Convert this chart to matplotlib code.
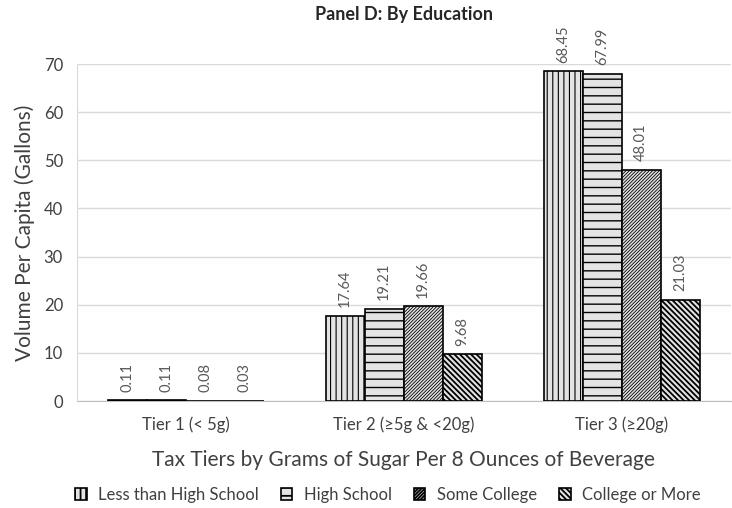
import matplotlib
matplotlib.use("Agg")
import matplotlib.pyplot as plt
import numpy as np

plt.rcParams['font.family'] = ['Lato', 'DejaVu Sans']

categories = ["Tier 1 (< 5g)", "Tier 2 (\u22655g & <20g)", "Tier 3 (\u226520g)"]
series = ["Less than High School", "High School", "Some College", "College or More"]
values = {
    "Less than High School": [0.11, 17.64, 68.45],
    "High School": [0.11, 19.21, 67.99],
    "Some College": [0.08, 19.66, 48.01],
    "College or More": [0.03, 9.68, 21.03],
}
hatches = ["|||", "--", "//////////", "\\\\\\\\\\\\"]
hatch_lw = [0.8, 1.0, 0.6, 1.3]

fig = plt.figure(figsize=(7.32, 5.08), dpi=100)
ax = fig.add_axes([0.105, 0.2106, 0.893, 0.6634])

x = np.arange(len(categories))
w = 0.179
for i, s in enumerate(series):
    pos = x + (i - 1.5) * w
    plt.rcParams['hatch.linewidth'] = hatch_lw[i]
    bars = ax.bar(pos, values[s], w, color="#e3e3e3", edgecolor="black",
                  linewidth=1.2, hatch=hatches[i], label=s, zorder=3)
    for b in bars:
        if hasattr(b, "set_hatch_linewidth"):
            b.set_hatch_linewidth(hatch_lw[i])
    for p, v in zip(pos, values[s]):
        ax.text(p, v + 1.8, f"{v:.2f}", rotation=90, ha="center", va="bottom",
                fontsize=10.5, color="#595959")

ax.set_xlim(-0.5, 2.5)
ax.set_ylim(0, 70)
ax.set_yticks(range(0, 71, 10))
ax.yaxis.grid(True, color="#d9d9d9", linewidth=1, zorder=0)
ax.set_axisbelow(True)
for sp in ["top", "right"]:
    ax.spines[sp].set_visible(False)
ax.spines["left"].set_color("#d9d9d9")
ax.spines["bottom"].set_color("#bfbfbf")
ax.tick_params(axis="both", length=0, labelsize=12, colors="#404040")
ax.tick_params(axis="x", pad=11)
ax.tick_params(axis="y", pad=10)
ax.set_xticks(x)
ax.set_xticklabels(categories)
ax.set_ylabel("Volume Per Capita (Gallons)", fontsize=15, color="#404040", labelpad=6)
ax.set_xlabel("Tax Tiers by Grams of Sugar Per 8 Ounces of Beverage", fontsize=15,
              color="#404040", labelpad=12)
ax.set_title("Panel D: By Education", fontsize=13, fontweight="bold", color="#262626", pad=32)

leg = fig.legend(loc="lower center", bbox_to_anchor=(0.53, -0.02), ncol=4, frameon=False,
                 fontsize=12, handlelength=0.7, handleheight=0.7, columnspacing=1.3,
                 handletextpad=0.7, labelcolor="#404040")

fig.savefig("out.png", dpi=100)
